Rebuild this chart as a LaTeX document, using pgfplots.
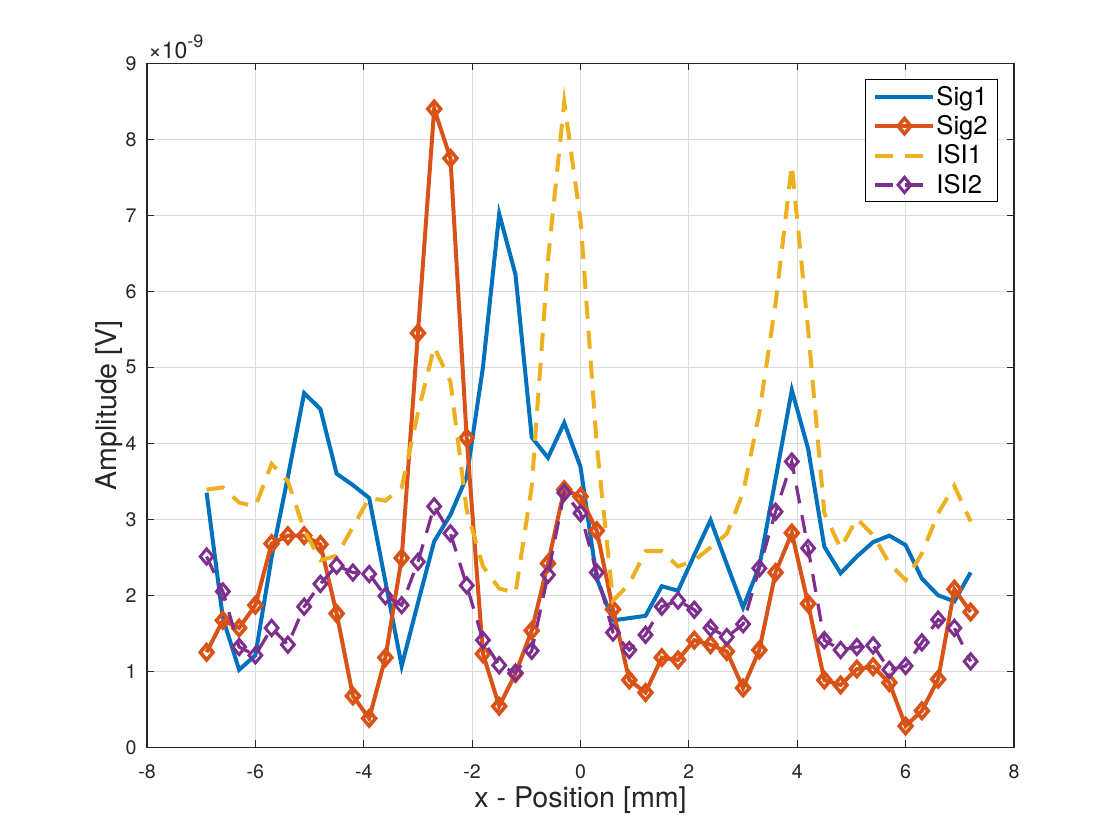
\documentclass[border=0pt]{standalone}
\usepackage{fontspec}
\setmainfont{TeX Gyre Heros}
\usepackage{pgfplots}
\usepackage{pgfplotstable}
\pgfplotsset{compat=1.18}
\definecolor{mblue}{rgb}{0,0.447,0.741}
\definecolor{morange}{rgb}{0.850,0.325,0.098}
\definecolor{myellow}{rgb}{0.929,0.694,0.125}
\definecolor{mpurple}{rgb}{0.494,0.184,0.556}
\pgfplotstableread{
x s1 s2 i1 i2
-6.9 3.35 1.25 3.39 2.51
-6.6 1.70 1.67 3.42 2.05
-6.3 1.02 1.57 3.22 1.32
-6.0 1.21 1.87 3.17 1.21
-5.7 2.50 2.68 3.73 1.57
-5.4 3.56 2.785 3.50 1.35
-5.1 4.66 2.785 2.86 1.85
-4.8 4.45 2.67 2.46 2.15
-4.5 3.60 1.76 2.52 2.39
-4.2 3.45 0.675 2.90 2.30
-3.9 3.28 0.38 3.28 2.28
-3.6 2.18 1.18 3.245 1.99
-3.3 1.07 2.49 3.42 1.87
-3.0 1.90 5.45 4.40 2.44
-2.7 2.71 8.40 5.27 3.17
-2.4 3.06 7.75 4.81 2.815
-2.1 3.56 4.07 3.12 2.13
-1.8 5.00 1.23 2.38 1.41
-1.5 7.02 0.54 2.09 1.08
-1.2 6.22 0.97 2.03 0.98
-0.9 4.08 1.535 3.43 1.27
-0.6 3.81 2.42 6.41 2.27
-0.3 4.27 3.39 8.49 3.35
0.0 3.69 3.30 6.94 3.08
0.3 2.22 2.85 3.98 2.30
0.6 1.67 1.815 1.93 1.51
0.9 1.70 0.885 2.15 1.28
1.2 1.73 0.72 2.58 1.48
1.5 2.12 1.18 2.58 1.85
1.8 2.06 1.15 2.38 1.93
2.1 2.53 1.41 2.46 1.81
2.4 2.99 1.35 2.63 1.57
2.7 2.41 1.26 2.81 1.45
3.0 1.84 0.78 3.35 1.62
3.3 2.38 1.28 4.40 2.355
3.6 3.53 2.30 5.84 3.10
3.9 4.70 2.82 7.66 3.76
4.2 3.93 1.89 5.50 2.62
4.5 2.64 0.885 3.08 1.41
4.8 2.29 0.82 2.62 1.28
5.1 2.51 1.03 3.01 1.32
5.4 2.70 1.06 2.79 1.34
5.7 2.785 0.85 2.42 1.02
6.0 2.66 0.28 2.20 1.07
6.3 2.22 0.48 2.55 1.38
6.6 2.00 0.895 3.08 1.68
6.9 1.92 2.08 3.44 1.57
7.2 2.30 1.78 2.97 1.13
}\datatable
\begin{document}
\begin{tikzpicture}
\useasboundingbox (0,0) rectangle (560pt,420pt);
\begin{axis}[
  at={(73.5pt,46.35pt)}, anchor=south west,
  scale only axis, width=433.5pt, height=342pt,
  xmin=-8, xmax=8, ymin=0, ymax=9,
  xtick={-8,-6,...,8}, ytick={0,1,...,9},
  scaled ticks=false,
  clip mode=individual,
  /pgf/number format/assume math mode=true,
  tick align=inside, major tick length=3.5pt,
  tick style={color=black!85, line width=0.6pt},
  axis line style={color=black!85, line width=0.6pt},
  grid=major,
  major grid style={color=black!14, line width=0.5pt},
  ticklabel style={font=\fontsize{9.8}{11}\selectfont, color=black!85},
  xticklabel style={anchor=north, inner sep=0pt, yshift=-8.4pt},
  yticklabel style={anchor=east, inner sep=0pt, xshift=-5pt},
  every axis x label/.style={at={(rel axis cs:0.5,0)}, anchor=center, yshift=-26.3pt, font=\fontsize{14.3}{16}\selectfont, color=black!85},
  every axis y label/.style={at={(rel axis cs:0,0.5)}, xshift=-18.7pt, rotate=90, anchor=center, font=\fontsize{14.3}{16}\selectfont, color=black!85},
  xlabel={x - Position [mm]},
  ylabel={Amplitude [V]},
  legend style={at={(1,1)}, anchor=north east, xshift=-8.2pt, yshift=-8pt,
    font=\fontsize{12.8}{14}\selectfont, draw=black, line width=0.5pt,
    inner xsep=4.2pt, inner ysep=2.3pt, row sep=2.4pt,
    nodes={inner sep=0.5pt}},
  legend cell align=left,
  legend image code/.code={\draw[mark repeat=2,mark phase=2,#1] plot coordinates {(0pt,0pt) (14.5pt,0pt) (29pt,0pt)};},
]
\addplot[color=mblue, line width=2pt] table[x=x, y=s1] {\datatable};
\addlegendentry{\strut Sig1}
\addplot[color=morange, line width=2pt, mark=diamond, mark size=3.8pt, mark options={solid, line width=1.8pt, xscale=1.12}] table[x=x, y=s2] {\datatable};
\addlegendentry{\strut Sig2}
\addplot[color=myellow, line width=2pt, dash pattern=on 9pt off 6pt] table[x=x, y=i1] {\datatable};
\addlegendentry{\strut ISI1}
\addplot[color=mpurple, line width=1.6pt, dash pattern=on 9pt off 6pt, mark=diamond, mark size=3.8pt, mark options={solid, line width=1.5pt, xscale=1.12}] table[x=x, y=i2] {\datatable};
\addlegendentry{\strut ISI2}
\node[anchor=base west, inner sep=0pt, xshift=0.5pt, yshift=2.5pt, font=\fontsize{11.5}{12}\selectfont, color=black!85] at (rel axis cs:0,1) {×10\raisebox{0.45em}{\fontsize{9}{10}\selectfont -9}};
\end{axis}
\end{tikzpicture}
\end{document}
